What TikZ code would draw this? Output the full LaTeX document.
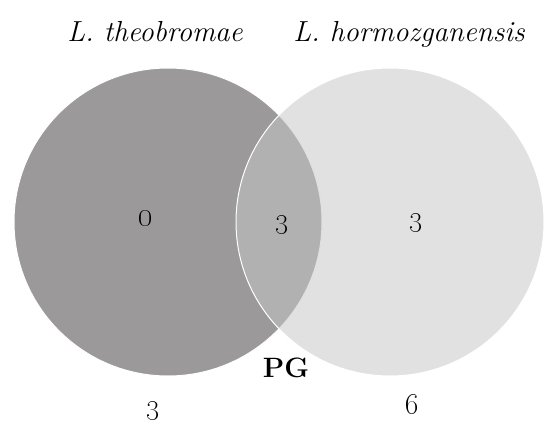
\documentclass[tikz,border=0pt]{standalone}
\usepackage{tikz}

\definecolor{theogray}{RGB}{155,153,154}
\definecolor{hormogray}{RGB}{199,199,199}

\begin{document}
\begin{tikzpicture}[x=1pt,y=-1pt]
\useasboundingbox (0,0) rectangle (544,426);

\begin{scope}[every node/.style={circle,draw=white,line width=1pt,inner sep=0pt,minimum size=308pt}]
    \node[fill=theogray] (T) at (168,222) {};
    \node[fill=hormogray,fill opacity=0.54] (H) at (390,222) {};
\end{scope}

% species names
\begin{scope}[every node/.style={anchor=base,font=\fontsize{29}{32}\selectfont\itshape}]
    \node (tname) at (155,41) {L. theobromae};
    \node (hname) at (409,41) {L. hormozganensis};
\end{scope}

% counts
\begin{scope}[every node/.style={anchor=base,font=\fontsize{30}{32}\selectfont}]
    \node[font=\fontsize{42}{44}\selectfont] (nT) at (146,226) {\oldstylenums{0}};
    \node (nTH) at (282,228) {\oldstylenums{3}};
    \node (nH) at (416,226) {\oldstylenums{3}};
    \node (totT) at (153,414) {\oldstylenums{3}};
    \node (totH) at (412,414) {\oldstylenums{6}};
\end{scope}

\node[anchor=base,font=\fontsize{28}{30}\selectfont\bfseries] (pg) at (286,377) {PG};
\end{tikzpicture}
\end{document}
